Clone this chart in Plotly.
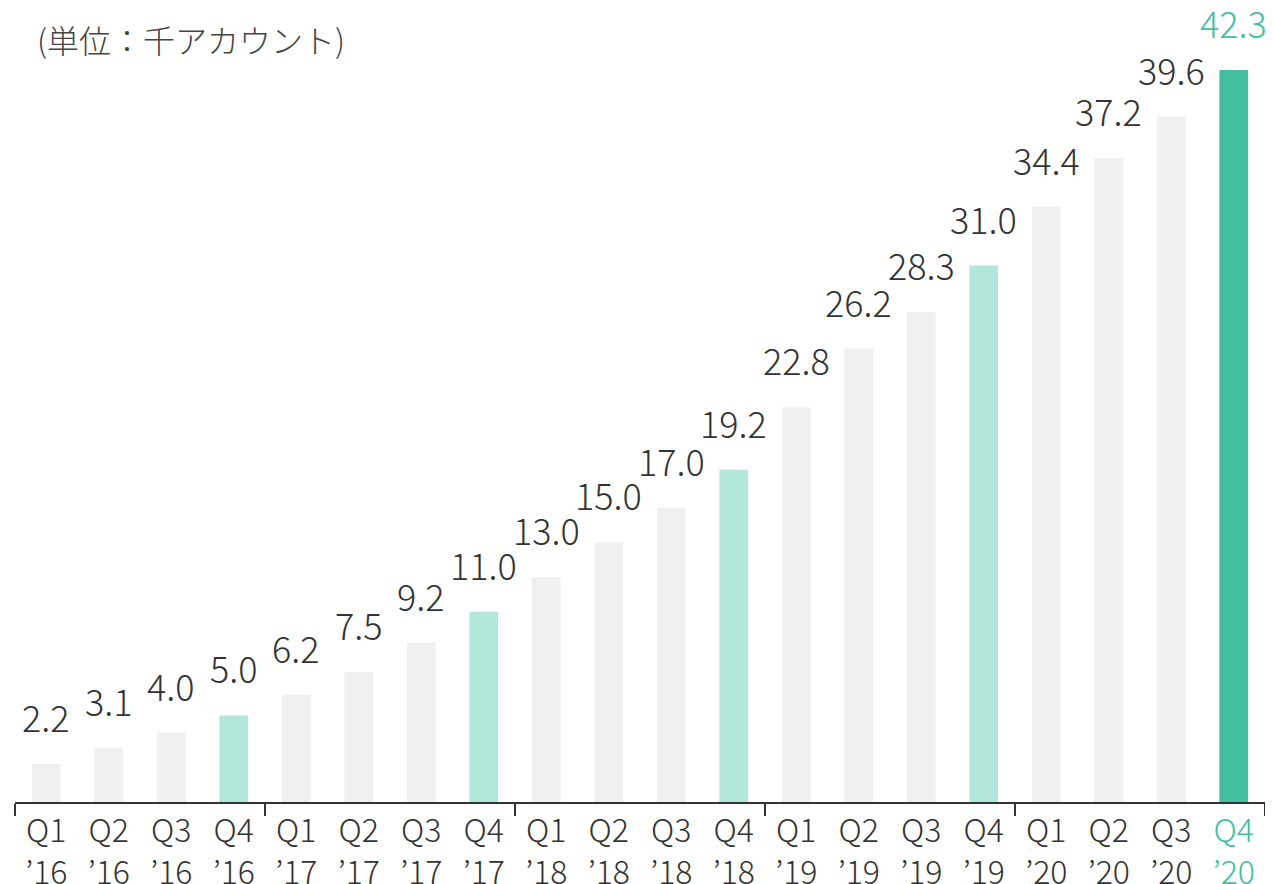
import plotly.graph_objects as go

quarters = ["Q1", "Q2", "Q3", "Q4"] * 5
years = ["'16"] * 4 + ["'17"] * 4 + ["'18"] * 4 + ["'19"] * 4 + ["'20"] * 4
values = [2.2, 3.1, 4.0, 5.0, 6.2, 7.5, 9.2, 11.0, 13.0, 15.0, 17.0, 19.2,
          22.8, 26.2, 28.3, 31.0, 34.4, 37.2, 39.6, 42.3]
unit_label = "(単位：千アカウント)"

GRAY = "#f0f0f0"
LIGHT_TEAL = "#b3e6da"
TEAL = "#43bf9f"
TEXT = "#333333"
FONT = "Noto Sans CJK JP Light, Noto Sans CJK JP, sans-serif"

n = len(values)
xs = list(range(n))
colors = []
for i in range(n):
    if i == n - 1:
        colors.append(TEAL)
    elif quarters[i] == "Q4":
        colors.append(LIGHT_TEAL)
    else:
        colors.append(GRAY)

ticktext = []
for i in range(n):
    yr = years[i].replace("'", "’")
    if i == n - 1:
        t = f"<span style='color:{TEAL}'>{quarters[i]}</span><br><span style='color:{TEAL}'>{yr}</span>"
    else:
        t = f"{quarters[i]}<br>{yr}"
    ticktext.append(t)

fig = go.Figure(go.Bar(x=xs, y=values, marker=dict(color=colors, line=dict(width=0)),
                       width=0.46, hoverinfo="skip"))

for i, v in enumerate(values):
    fig.add_annotation(x=xs[i], y=v, text=f"{v:.1f}", showarrow=False,
                       yanchor="bottom", yshift=20,
                       font=dict(family=FONT, size=36, weight=300,
                                 color=TEAL if i == n - 1 else TEXT))

fig.add_annotation(xref="paper", yref="paper", x=0.0, y=1.0, yshift=31, xshift=20,
                   xanchor="left", yanchor="middle", text=unit_label, showarrow=False,
                   font=dict(family=FONT, size=32, weight=300, color="#444444"))

fig.update_layout(
    width=1265, height=876,
    margin=dict(l=7, r=8, t=62, b=82, autoexpand=False),
    plot_bgcolor="white", paper_bgcolor="white",
    showlegend=False,
    xaxis=dict(range=[-0.5, n - 0.5], tickmode="array", tickvals=xs, ticktext=ticktext,
               ticks="", showline=True, linecolor="#333333", linewidth=2,
               showgrid=False, zeroline=False, fixedrange=True, automargin=False,
               tickfont=dict(family=FONT, size=32, weight=300, color=TEXT),
               minor=dict(tickmode="linear", tick0=-0.5, dtick=4, ticks="outside",
                          ticklen=12, tickwidth=2, tickcolor="#333333", showgrid=False)),
    yaxis=dict(range=[0, 42.3], visible=False, showgrid=False, zeroline=False,
               fixedrange=True, automargin=False),
)

fig.write_html("out.html")
